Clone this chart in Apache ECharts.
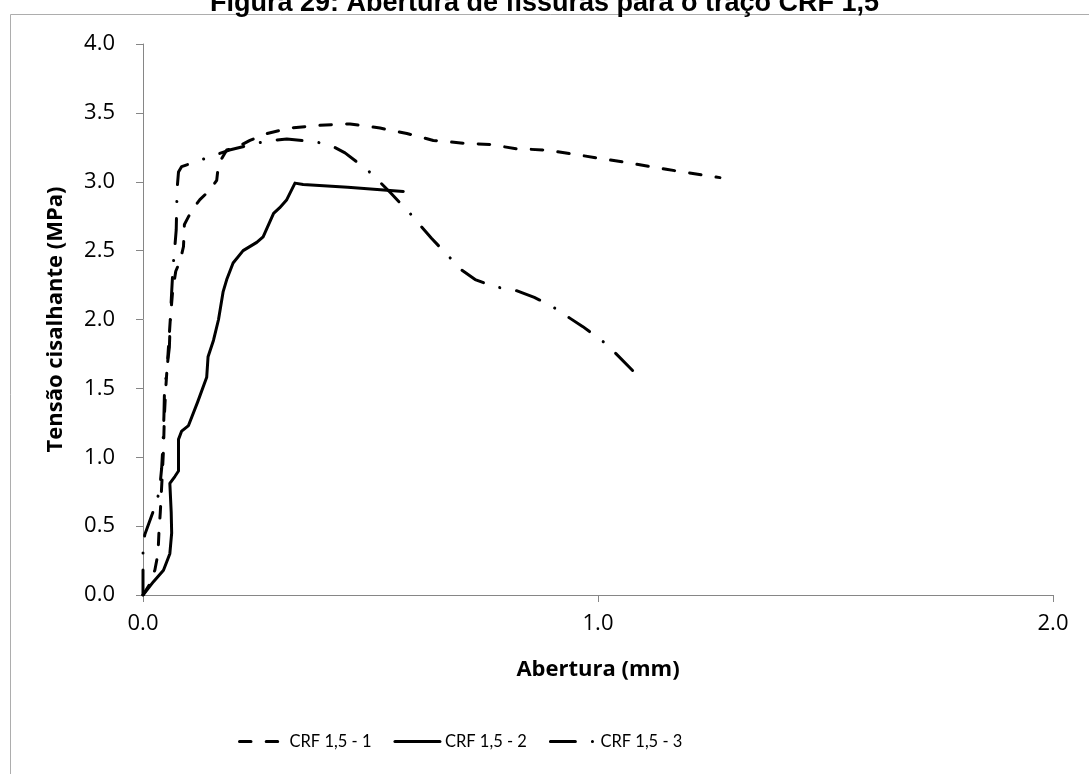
<!DOCTYPE html>
<html>
<head>
<meta charset="utf-8">
<script src="https://cdn.jsdelivr.net/npm/echarts@6/dist/echarts.min.js"></script>
<style>
    html, body { margin: 0; padding: 0; background: #ffffff; }
    #chart { width: 1089px; height: 774px; }
</style>
</head>
<body>
<div id="chart"></div>
<script>
var serieNames = ['CRF 1,5 - 1', 'CRF 1,5 - 2', 'CRF 1,5 - 3'];
var xTicks = [0, 1, 2];
var yTicks = [0, 0.5, 1, 1.5, 2, 2.5, 3, 3.5, 4];

// CRF 1,5 - 1 (tracejada)
var abertura1 = [0, 0.015, 0.026, 0.033, 0.035, 0.038, 0.042, 0.045, 0.047, 0.05, 0.055, 0.06, 0.065, 0.072, 0.082, 0.089, 0.091, 0.107, 0.125, 0.147, 0.162, 0.166, 0.184, 0.206, 0.235, 0.272, 0.323, 0.389, 0.455, 0.521, 0.58, 0.638, 0.704, 0.763, 0.82, 0.887, 0.946, 1.004, 1.063, 1.15, 1.268];
var tensao1 = [0, 0.08, 0.18, 0.3, 0.45, 0.6, 0.85, 1.05, 1.3, 1.5, 1.75, 2.0, 2.2, 2.35, 2.43, 2.53, 2.69, 2.79, 2.87, 2.94, 3.01, 3.13, 3.23, 3.25, 3.3, 3.35, 3.39, 3.41, 3.42, 3.39, 3.35, 3.3, 3.28, 3.27, 3.24, 3.23, 3.2, 3.17, 3.14, 3.09, 3.03];

// CRF 1,5 - 2 (continua)
var abertura2 = [0, 0.023, 0.045, 0.059, 0.063, 0.062, 0.059, 0.07, 0.078, 0.078, 0.085, 0.1, 0.12, 0.14, 0.143, 0.155, 0.166, 0.176, 0.184, 0.198, 0.22, 0.25, 0.264, 0.287, 0.3, 0.316, 0.334, 0.352, 0.45, 0.572];
var tensao2 = [0, 0.097, 0.18, 0.3, 0.45, 0.6, 0.81, 0.86, 0.9, 1.13, 1.19, 1.23, 1.4, 1.58, 1.73, 1.85, 2.0, 2.2, 2.29, 2.41, 2.5, 2.56, 2.6, 2.77, 2.81, 2.87, 2.99, 2.98, 2.96, 2.93];

// CRF 1,5 - 3 (traco-ponto)
var abertura3 = [0, 0, 0.004, 0.026, 0.036, 0.041, 0.044, 0.046, 0.047, 0.051, 0.058, 0.06, 0.063, 0.066, 0.069, 0.073, 0.074, 0.075, 0.078, 0.085, 0.12, 0.155, 0.19, 0.25, 0.283, 0.316, 0.38, 0.415, 0.444, 0.495, 0.52, 0.544, 0.587, 0.61, 0.634, 0.677, 0.7, 0.73, 0.77, 0.82, 0.86, 0.895, 0.938, 0.966, 1.015, 1.04, 1.076];
var tensao3 = [0, 0.34, 0.44, 0.64, 0.75, 0.92, 1.1, 1.3, 1.45, 1.6, 1.8, 2.0, 2.2, 2.38, 2.49, 2.65, 2.8, 2.95, 3.07, 3.11, 3.15, 3.19, 3.23, 3.28, 3.3, 3.31, 3.29, 3.26, 3.21, 3.08, 3.0, 2.92, 2.77, 2.68, 2.59, 2.44, 2.36, 2.29, 2.24, 2.21, 2.16, 2.105, 2.01, 1.95, 1.83, 1.75, 1.63];

function pares(xs, ys) {
    var out = [];
    for (var i = 0; i < xs.length; i++) {
        out.push([xs[i], ys[i]]);
    }
    return out;
}

var chart = echarts.init(document.getElementById('chart'), null, {renderer: 'canvas'});

var fonteEixo = '"Open Sans", sans-serif';
var fonteLegenda = 'Lato, "Open Sans", sans-serif';
var corEixo = '#868686';

var estilos = [
    {type: [11.5, 15.2], cap: 'round'},
    {type: 'solid', cap: 'round'},
    {type: [25, 17, 0.1, 17], cap: 'round'}
];
var dados = [pares(abertura1, tensao1), pares(abertura2, tensao2), pares(abertura3, tensao3)];

var series = [];
for (var s = 0; s < 3; s++) {
    series.push({
        name: serieNames[s],
        type: 'line',
        data: dados[s],
        symbol: 'none',
        smooth: false,
        animation: false,
        lineStyle: {color: '#000000', width: 3, type: estilos[s].type, cap: estilos[s].cap, join: 'round'},
        itemStyle: {color: '#000000'}
    });
}

var option = {
    backgroundColor: '#ffffff',
    animation: false,
    title: {
        text: 'Figura 29: Abertura de fissuras para o traço CRF 1,5',
        left: 'center',
        top: -15,
        textStyle: {fontFamily: '"Liberation Sans", Arial, sans-serif', fontWeight: 'bold', fontSize: 27, color: '#000000'}
    },
    graphic: [{
        type: 'rect',
        shape: {x: 10.5, y: 14.5, width: 1090, height: 800},
        style: {fill: 'none', stroke: '#adadad', lineWidth: 1},
        silent: true,
        z: -1
    }],
    legend: {
        bottom: 19,
        left: 233,
        itemWidth: 45,
        itemHeight: 14,
        itemGap: 22,
        itemStyle: {opacity: 0},
        lineStyle: {width: 3},
        textStyle: {fontFamily: fonteLegenda, fontSize: 16.5, color: '#000000'},
        data: serieNames
    },
    grid: {left: 143, right: 36, top: 44, bottom: 179, containLabel: false},
    xAxis: {
        type: 'value',
        min: xTicks[0],
        max: xTicks[xTicks.length - 1],
        interval: 1,
        name: 'Abertura (mm)',
        nameLocation: 'middle',
        nameGap: 64,
        nameTextStyle: {fontFamily: fonteEixo, fontWeight: 'bold', fontSize: 22, color: '#000000'},
        axisLine: {show: true, lineStyle: {color: corEixo, width: 1}},
        axisTick: {show: true, length: 7, lineStyle: {color: corEixo}},
        axisLabel: {margin: 18, fontFamily: fonteEixo, fontSize: 22, color: '#000000', formatter: function (v) { return v.toFixed(1); }},
        splitLine: {show: false}
    },
    yAxis: {
        type: 'value',
        min: yTicks[0],
        max: yTicks[yTicks.length - 1],
        interval: 0.5,
        name: 'Tensão cisalhante (MPa)',
        nameLocation: 'middle',
        nameGap: 76,
        nameRotate: 90,
        nameTextStyle: {fontFamily: fonteEixo, fontWeight: 'bold', fontSize: 22, color: '#000000'},
        axisLine: {show: true, lineStyle: {color: corEixo, width: 1}},
        axisTick: {show: true, length: 7, lineStyle: {color: corEixo}},
        axisLabel: {margin: 28, fontFamily: fonteEixo, fontSize: 22, color: '#000000', formatter: function (v) { return v.toFixed(1); }},
        splitLine: {show: false}
    },
    series: series
};

chart.setOption(option);
</script>
</body>
</html>
